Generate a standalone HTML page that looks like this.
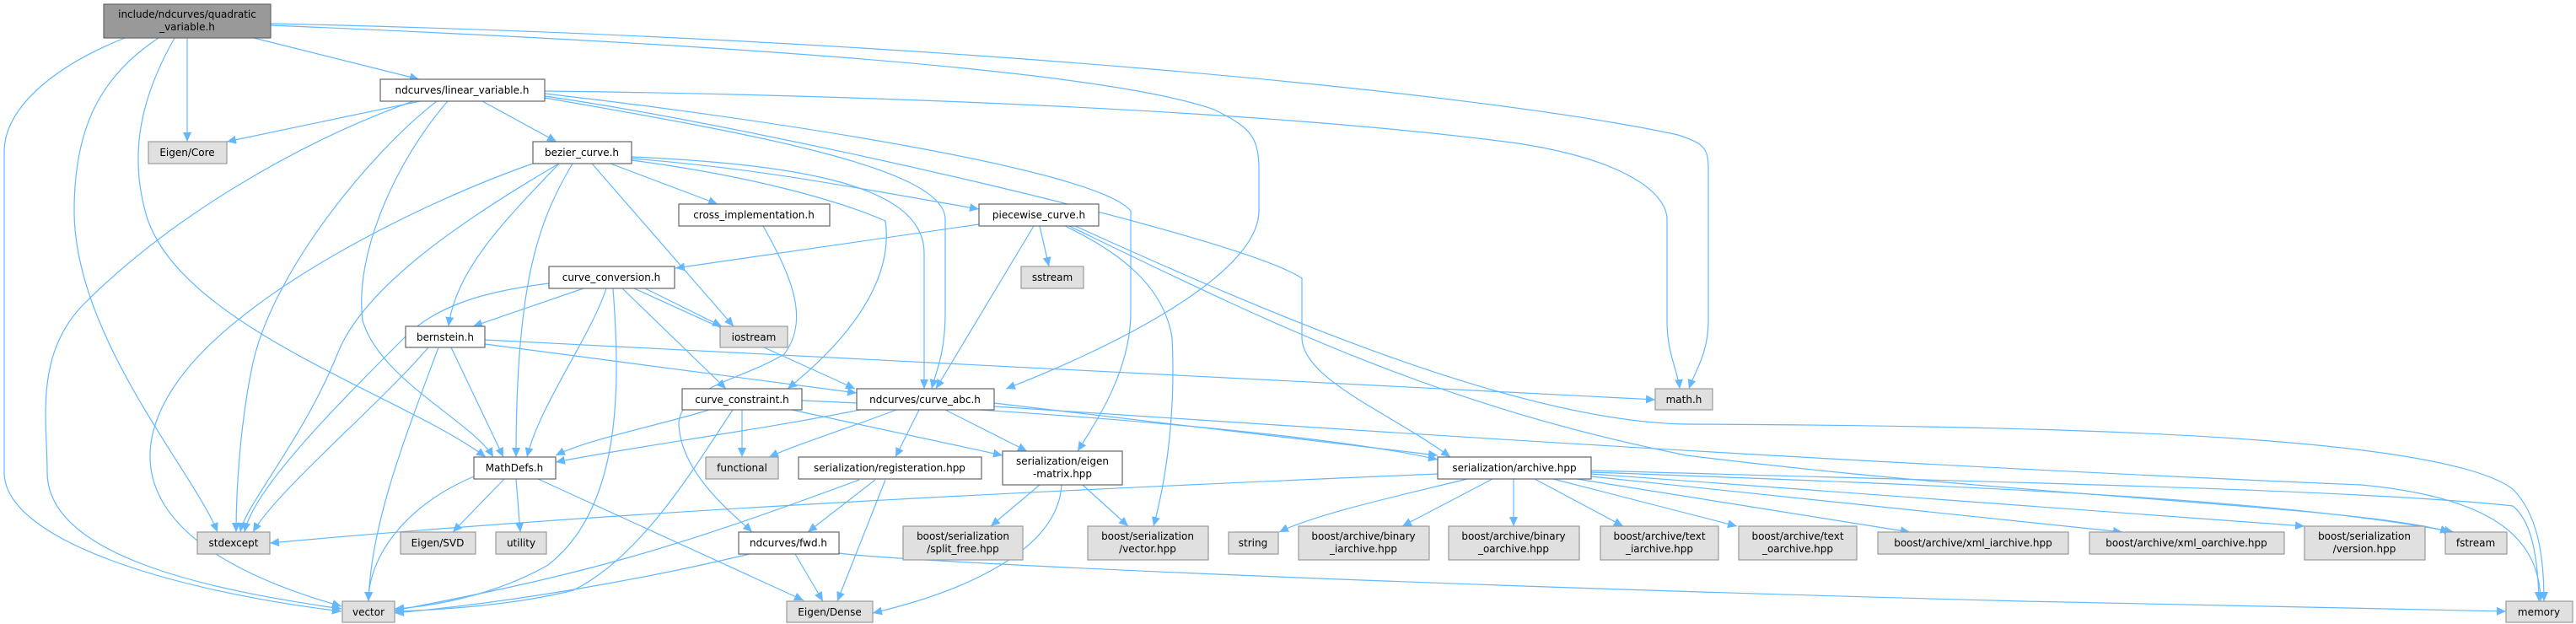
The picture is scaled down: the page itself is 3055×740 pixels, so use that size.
<!DOCTYPE html>
<html><head><meta charset="utf-8"><style>
html,body{margin:0;padding:0;background:#fff;}
svg{display:block;}
text{font-family:"DejaVu Sans","Liberation Sans",sans-serif;font-size:12px;fill:#000;text-anchor:middle;}
.e{fill:none;stroke:#63b8ff;stroke-width:1.2;marker-end:url(#a);}
.w{fill:#fff;stroke:#666;stroke-width:1.2;}
.g{fill:#e0e0e0;stroke:#999;stroke-width:1.2;}
.r{fill:#999;stroke:#666;stroke-width:1.2;}
</style></head><body>
<svg width="3055" height="740" viewBox="0 0 3055 740" xmlns="http://www.w3.org/2000/svg">
<defs><marker id="a" markerUnits="userSpaceOnUse" markerWidth="12" markerHeight="10" refX="11" refY="5" orient="auto"><path d="M0,0 L11,5 L0,10 z" fill="#63b8ff"/></marker></defs>
<g>
<!-- quadratic -->
<path class="e" d="M148,45 C60,80 5,130 5,180 L5,560 C5,640 200,700 405,725"/>
<path class="e" d="M188,45 C120,90 88,150 88,250 C88,400 230,560 258,631"/>
<path class="e" d="M207,45 C170,110 150,180 175,260 C220,390 480,470 576,542"/>
<path class="e" d="M222,45 L222,168"/>
<path class="e" d="M301,45 L497,94"/>
<path class="e" d="M321,28 C1100,45 1760,110 1990,160 C2020,170 2026,175 2026,200 L2026,380 C2026,420 2010,440 2003,461"/>
<path class="e" d="M321,30 C800,50 1300,80 1440,130 C1480,150 1493,160 1493,200 L1493,250 C1493,330 1300,420 1193,461"/>
<!-- linear -->
<path class="e" d="M646,108 C1000,112 1500,130 1800,170 C1930,190 1977,230 1977,260 L1977,380 C1977,420 1990,440 1992,461"/>
<path class="e" d="M646,111 C900,140 1300,200 1341,250 L1341,370 C1341,440 1300,500 1278,535"/>
<path class="e" d="M646,114 C900,150 1470,280 1544,330 L1544,400 C1544,450 1650,490 1720,542"/>
<path class="e" d="M646,116 C900,160 1121,200 1121,260 L1121,370 C1121,420 1110,440 1105,461"/>
<path class="e" d="M498,120 L269,168"/>
<path class="e" d="M490,120 C350,170 200,260 100,360 C40,420 56,500 56,560 C56,660 250,700 405,722"/>
<path class="e" d="M518,120 C440,180 325,320 300,430 C285,500 280,580 280,631"/>
<path class="e" d="M531,120 C470,190 420,300 430,380 C450,450 560,500 585,542"/>
<path class="e" d="M572,120 L660,168"/>
<!-- bezier -->
<path class="e" d="M632,194 C500,240 300,340 220,440 C140,540 160,650 405,719"/>
<path class="e" d="M663,194 C550,260 431,340 400,420 C360,520 290,600 285,631"/>
<path class="e" d="M663,194 C600,260 540,320 532,387"/>
<path class="e" d="M679,194 C640,260 612,330 612,542"/>
<path class="e" d="M702,194 L870,387"/>
<path class="e" d="M724,194 L851,242"/>
<path class="e" d="M749,188 C900,200 1000,220 1161,248"/>
<path class="e" d="M749,186 C950,195 1096,220 1096,300 L1096,461"/>
<path class="e" d="M749,190 C900,210 1000,240 1050,262 C1060,330 1010,400 934,461"/>
<!-- curve_conversion -->
<path class="e" d="M651,336 C580,345 520,360 480,400 C400,480 300,580 290,631"/>
<path class="e" d="M692,342 L561,387"/>
<path class="e" d="M719,342 C700,400 640,480 625,542"/>
<path class="e" d="M727,342 C735,450 740,600 650,670 C580,710 500,720 468,722"/>
<path class="e" d="M738,342 L861,461"/>
<path class="e" d="M752,342 L1014,461"/>
<path class="e" d="M765,342 L856,387"/>
<!-- piecewise -->
<path class="e" d="M1161,266 L801,318"/>
<path class="e" d="M1226,268 L1110,461"/>
<path class="e" d="M1233,268 L1244,316"/>
<path class="e" d="M1263,268 C1330,300 1380,340 1390,400 C1395,500 1380,580 1368,624"/>
<path class="e" d="M1268,268 C1500,380 1700,480 2000,540 C2400,590 2800,600 2905,631"/>
<path class="e" d="M1275,268 C1500,370 1800,500 2000,503 C2500,505 2900,520 2980,580 C3010,610 3017,660 3017,713"/>
<!-- cross -->
<path class="e" d="M905,268 C940,330 960,380 930,420 C880,450 810,460 805,500 C805,560 870,610 892,631"/>
<!-- bernstein -->
<path class="e" d="M508,412 C450,480 330,580 300,631"/>
<path class="e" d="M520,412 C480,520 440,620 437,713"/>
<path class="e" d="M535,412 L597,542"/>
<path class="e" d="M575,403 L1963,474"/>
<path class="e" d="M575,408 L1016,466"/>
<!-- curve_constraint -->
<path class="e" d="M841,486 C780,505 700,520 659,540"/>
<path class="e" d="M869,486 C820,560 760,660 680,700 C600,720 500,724 468,725"/>
<path class="e" d="M880,486 L880,542"/>
<path class="e" d="M939,486 L1189,540"/>
<path class="e" d="M951,475 C1300,490 1600,520 1705,545"/>
<!-- curve_abc -->
<path class="e" d="M1020,486 C900,510 750,530 659,548"/>
<path class="e" d="M1063,486 C1000,510 950,525 912,542"/>
<path class="e" d="M1090,486 L1062,542"/>
<path class="e" d="M1121,486 L1218,535"/>
<path class="e" d="M1179,478 L1705,540"/>
<path class="e" d="M1179,482 C1600,510 2200,550 2800,575 C2960,590 3012,640 3013,713"/>
<!-- MathDefs -->
<path class="e" d="M562,565 C480,600 437,660 437,713"/>
<path class="e" d="M598,568 L537,631"/>
<path class="e" d="M612,568 L617,631"/>
<path class="e" d="M638,568 L953,712"/>
<!-- registeration -->
<path class="e" d="M1019,569 C800,650 700,680 468,724"/>
<path class="e" d="M1038,569 L958,631"/>
<path class="e" d="M1050,569 L993,713"/>
<!-- eigen-matrix -->
<path class="e" d="M1233,575 L1175,624"/>
<path class="e" d="M1284,575 L1338,624"/>
<path class="e" d="M1259,575 C1255,650 1150,700 1035,727"/>
<!-- fwd -->
<path class="e" d="M889,657 C750,690 600,715 468,727"/>
<path class="e" d="M943,657 L976,713"/>
<path class="e" d="M995,656 C1055,665 1600,692 2400,713 L2972,725"/>
<!-- archive -->
<path class="e" d="M1705,562 C1400,575 800,600 320,644"/>
<path class="e" d="M1740,568 C1650,590 1560,610 1517,631"/>
<path class="e" d="M1770,568 L1663,624"/>
<path class="e" d="M1795,568 L1795,624"/>
<path class="e" d="M1820,568 L1925,624"/>
<path class="e" d="M1842,568 L2060,624"/>
<path class="e" d="M1870,568 L2265,631"/>
<path class="e" d="M1887,565 L2517,631"/>
<path class="e" d="M1887,562 L2733,624"/>
<path class="e" d="M1887,560 C2300,575 2700,590 2910,631"/>
<path class="e" d="M1887,558 C2300,570 2800,580 2980,600 C3005,620 3010,670 3011,713"/>
</g>
<g>
<rect class="r" x="123" y="5" width="198" height="40"/><text x="222" y="21">include/ndcurves/quadratic</text><text x="222" y="36">_variable.h</text>
<rect class="w" x="451" y="94" width="195" height="26"/><text x="548" y="111">ndcurves/linear_variable.h</text>
<rect class="g" x="176" y="168" width="93" height="26"/><text x="222" y="185">Eigen/Core</text>
<rect class="w" x="632" y="168" width="117" height="26"/><text x="690" y="185">bezier_curve.h</text>
<rect class="w" x="805" y="242" width="179" height="26"/><text x="894" y="259">cross_implementation.h</text>
<rect class="w" x="1161" y="242" width="142" height="26"/><text x="1232" y="259">piecewise_curve.h</text>
<rect class="w" x="651" y="316" width="149" height="26"/><text x="725" y="333">curve_conversion.h</text>
<rect class="g" x="1211" y="316" width="74" height="26"/><text x="1248" y="333">sstream</text>
<rect class="w" x="481" y="387" width="94" height="25"/><text x="528" y="404">bernstein.h</text>
<rect class="g" x="854" y="387" width="80" height="25"/><text x="894" y="404">iostream</text>
<rect class="w" x="809" y="461" width="142" height="25"/><text x="880" y="478">curve_constraint.h</text>
<rect class="w" x="1016" y="461" width="163" height="25"/><text x="1097" y="478">ndcurves/curve_abc.h</text>
<rect class="g" x="1963" y="461" width="68" height="25"/><text x="1997" y="478">math.h</text>
<rect class="w" x="562" y="542" width="97" height="26"/><text x="610" y="559">MathDefs.h</text>
<rect class="g" x="837" y="542" width="86" height="26"/><text x="880" y="559">functional</text>
<rect class="w" x="947" y="542" width="217" height="26"/><text x="1055" y="559">serialization/registeration.hpp</text>
<rect class="w" x="1189" y="535" width="142" height="40"/><text x="1260" y="551">serialization/eigen</text><text x="1260" y="566">-matrix.hpp</text>
<rect class="w" x="1705" y="542" width="182" height="26"/><text x="1796" y="559">serialization/archive.hpp</text>
<rect class="g" x="234" y="631" width="86" height="26"/><text x="277" y="648">stdexcept</text>
<rect class="g" x="475" y="631" width="89" height="26"/><text x="519" y="648">Eigen/SVD</text>
<rect class="g" x="588" y="631" width="60" height="26"/><text x="618" y="648">utility</text>
<rect class="w" x="876" y="631" width="119" height="26"/><text x="935" y="648">ndcurves/fwd.h</text>
<rect class="g" x="1071" y="624" width="142" height="40"/><text x="1142" y="640">boost/serialization</text><text x="1142" y="655">/split_free.hpp</text>
<rect class="g" x="1290" y="624" width="143" height="40"/><text x="1361" y="640">boost/serialization</text><text x="1361" y="655">/vector.hpp</text>
<rect class="g" x="1457" y="631" width="59" height="26"/><text x="1486" y="648">string</text>
<rect class="g" x="1540" y="624" width="155" height="40"/><text x="1617" y="640">boost/archive/binary</text><text x="1617" y="655">_iarchive.hpp</text>
<rect class="g" x="1718" y="624" width="155" height="40"/><text x="1795" y="640">boost/archive/binary</text><text x="1795" y="655">_oarchive.hpp</text>
<rect class="g" x="1898" y="624" width="140" height="40"/><text x="1968" y="640">boost/archive/text</text><text x="1968" y="655">_iarchive.hpp</text>
<rect class="g" x="2062" y="624" width="140" height="40"/><text x="2132" y="640">boost/archive/text</text><text x="2132" y="655">_oarchive.hpp</text>
<rect class="g" x="2227" y="631" width="226" height="26"/><text x="2340" y="648">boost/archive/xml_iarchive.hpp</text>
<rect class="g" x="2478" y="631" width="231" height="26"/><text x="2593" y="648">boost/archive/xml_oarchive.hpp</text>
<rect class="g" x="2733" y="624" width="143" height="40"/><text x="2804" y="640">boost/serialization</text><text x="2804" y="655">/version.hpp</text>
<rect class="g" x="2900" y="631" width="73" height="26"/><text x="2936" y="648">fstream</text>
<rect class="g" x="406" y="713" width="62" height="25"/><text x="437" y="730">vector</text>
<rect class="g" x="933" y="713" width="102" height="25"/><text x="984" y="730">Eigen/Dense</text>
<rect class="g" x="2972" y="713" width="79" height="25"/><text x="3011" y="730">memory</text>
</g>
</svg>
</body></html>
